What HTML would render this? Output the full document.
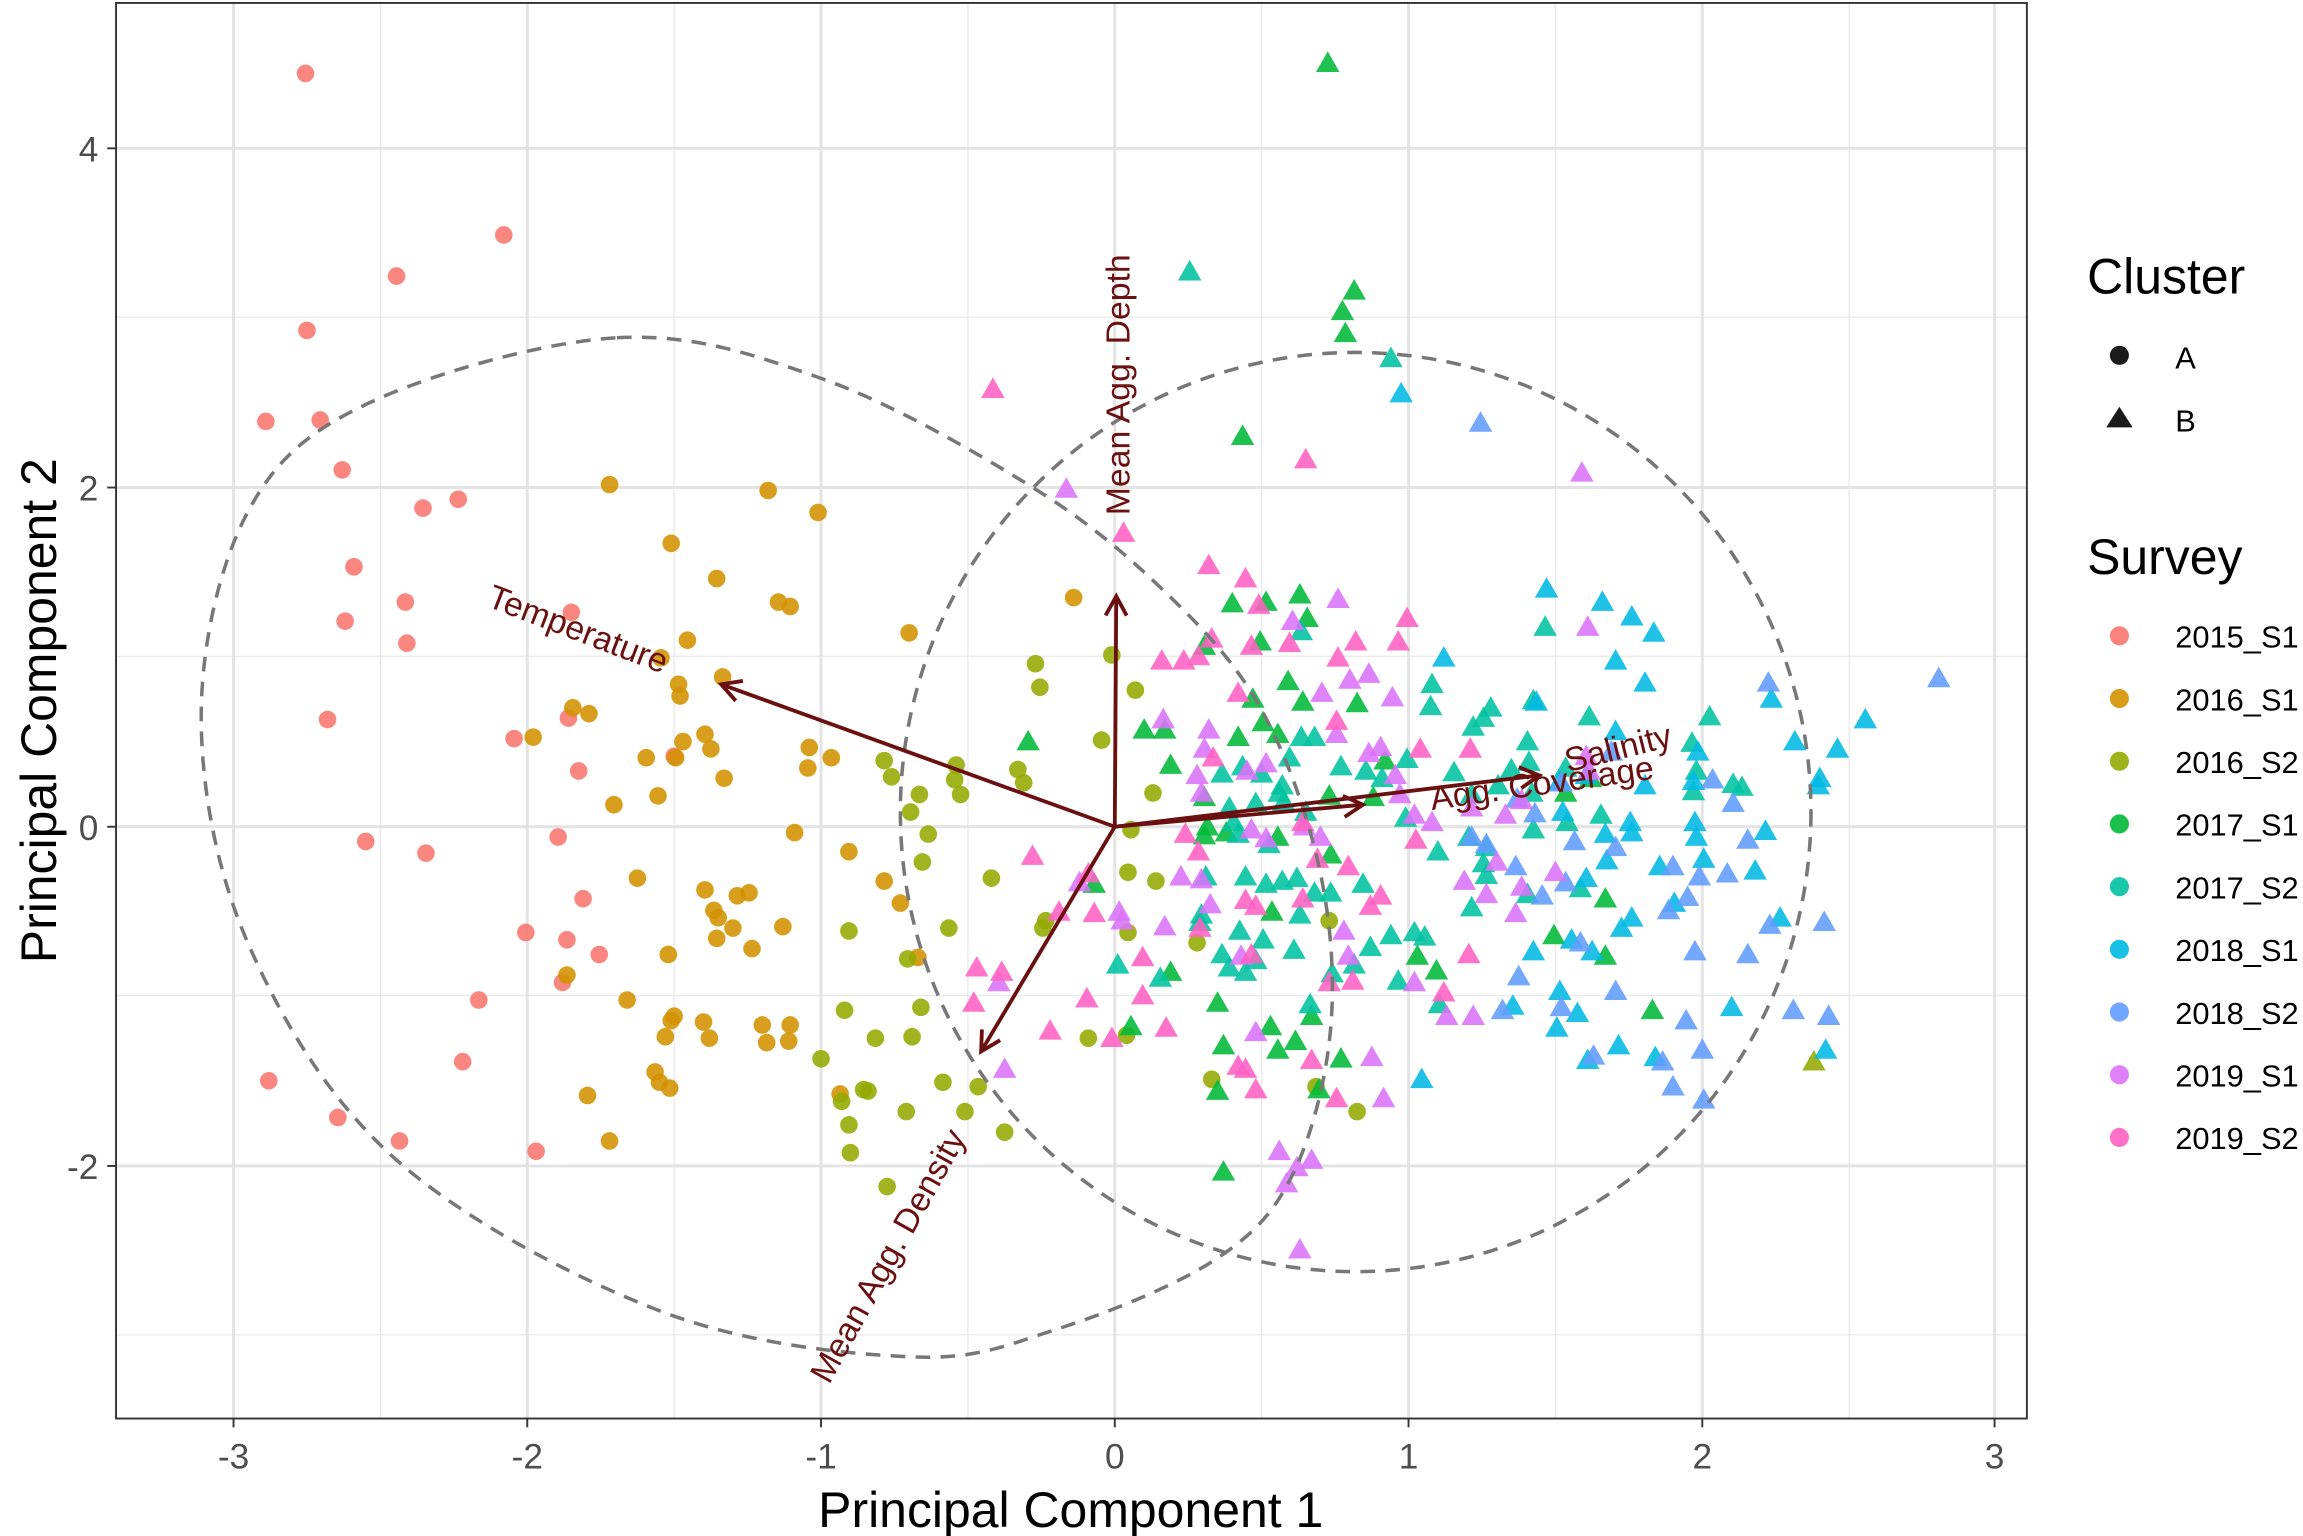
<!DOCTYPE html>
<html><head><meta charset="utf-8"><style>html,body{margin:0;padding:0;background:#fff;overflow:hidden}svg{display:block}</style></head>
<body>
<svg id="s" width="2303" height="1536" viewBox="0 0 1568 1046" preserveAspectRatio="none" xmlns="http://www.w3.org/2000/svg" font-family="Liberation Sans, sans-serif">
<rect x="0" y="0" width="1568" height="1046" fill="#fff"/>
<g stroke="#ebebeb" stroke-width="1">
<line x1="79" x2="1380" y1="216" y2="216"/><line x1="79" x2="1380" y1="447" y2="447"/><line x1="79" x2="1380" y1="678" y2="678"/><line x1="79" x2="1380" y1="909" y2="909"/>
<line y1="2" y2="966" x1="259" x2="259"/><line y1="2" y2="966" x1="459" x2="459"/><line y1="2" y2="966" x1="659" x2="659"/><line y1="2" y2="966" x1="859" x2="859"/><line y1="2" y2="966" x1="1059" x2="1059"/><line y1="2" y2="966" x1="1259" x2="1259"/>
</g>
<g stroke="#e3e3e3" stroke-width="2">
<line x1="79" x2="1380" y1="101" y2="101"/><line x1="79" x2="1380" y1="332" y2="332"/><line x1="79" x2="1380" y1="563" y2="563"/><line x1="79" x2="1380" y1="794" y2="794"/>
<line y1="2" y2="966" x1="159" x2="159"/><line y1="2" y2="966" x1="359" x2="359"/><line y1="2" y2="966" x1="559" x2="559"/><line y1="2" y2="966" x1="759" x2="759"/><line y1="2" y2="966" x1="959" x2="959"/><line y1="2" y2="966" x1="1159" x2="1159"/><line y1="2" y2="966" x1="1358" x2="1358"/>
</g>
<g id="pts"></g>
<g id="ell" fill="none" stroke="#777" stroke-width="2.4" stroke-dasharray="10,7"></g>
<g stroke="#6b1010" stroke-width="2.6" fill="none" id="arr"></g>
<g fill="#6b1010" font-size="23">
<text transform="translate(393,430) rotate(21)" text-anchor="middle" dominant-baseline="middle">Temperature</text>
<text transform="translate(763,262) rotate(-90)" text-anchor="middle" dominant-baseline="middle">Mean Agg. Depth</text>
<text transform="translate(1102,511) rotate(-14)" text-anchor="middle" dominant-baseline="middle">Salinity</text>
<text transform="translate(1050,535) rotate(-8)" text-anchor="middle" dominant-baseline="middle">Agg. Coverage</text>
<text transform="translate(606,856) rotate(-61)" text-anchor="middle" dominant-baseline="middle">Mean Agg. Density</text>
</g>
<rect x="79" y="2" width="1301" height="964" fill="none" stroke="#333" stroke-width="1.3"/>
<g stroke="#333" stroke-width="1.3">
<line x1="159" x2="159" y1="966" y2="972"/><line x1="359" x2="359" y1="966" y2="972"/><line x1="559" x2="559" y1="966" y2="972"/><line x1="759" x2="759" y1="966" y2="972"/><line x1="959" x2="959" y1="966" y2="972"/><line x1="1159" x2="1159" y1="966" y2="972"/><line x1="1358" x2="1358" y1="966" y2="972"/>
<line x1="73" x2="79" y1="101" y2="101"/><line x1="73" x2="79" y1="332" y2="332"/><line x1="73" x2="79" y1="563" y2="563"/><line x1="73" x2="79" y1="794" y2="794"/>
</g>
<g fill="#4d4d4d" font-size="24" text-anchor="middle">
<text x="159" y="1000">-3</text><text x="359" y="1000">-2</text><text x="559" y="1000">-1</text><text x="759" y="1000">0</text><text x="959" y="1000">1</text><text x="1159" y="1000">2</text><text x="1358" y="1000">3</text>
</g>
<g fill="#4d4d4d" font-size="24" text-anchor="end">
<text x="67" y="110">4</text><text x="67" y="341">2</text><text x="67" y="572">0</text><text x="67" y="803">-2</text>
</g>
<text x="729" y="1040" font-size="34" text-anchor="middle" fill="#000">Principal Component 1</text>
<text transform="translate(38,484) rotate(-90)" font-size="34" text-anchor="middle" fill="#000">Principal Component 2</text>
<text x="1421" y="200" font-size="34" fill="#000">Cluster</text>
<circle cx="1443" cy="242" r="6.5" fill="#1a1a1a"/>
<polygon points="1443,277 1452,291 1434,291" fill="#1a1a1a"/>
<text x="1481" y="251" font-size="21" fill="#000">A</text>
<text x="1481" y="294" font-size="21" fill="#000">B</text>
<text x="1421" y="391" font-size="34" fill="#000">Survey</text>
<g id="leg" font-size="21" fill="#000"></g>
</svg>
<script>
var C=["#F8766D","#D39200","#93AA00","#00BA38","#00C19F","#00B9E3","#619CFF","#DB72FB","#FF61C3"];
var NS="http://www.w3.org/2000/svg";
function el(t,a,p){var e=document.createElementNS(NS,t);for(var k in a)e.setAttribute(k,a[k]);p.appendChild(e);return e;}
var D=[
[0,0,[[208,50],[343,160],[270,188],[209,225],[181,287],[218,286],[233,320],[312,340],[288,346],[241,386],[276,410],[235,423],[389,417],[277,438],[223,490],[350,503],[387,489],[394,525],[249,573],[290,581],[380,570],[397,612],[358,635],[386,640],[408,650],[383,669],[326,681],[315,723],[183,736],[230,761],[272,777],[365,784],[459,515]]],
[1,0,[[415,330],[523,334],[557,349],[457,370],[488,394],[530,410],[538,413],[731,407],[468,436],[450,448],[462,466],[492,461],[619,431],[463,474],[390,482],[401,486],[480,500],[484,510],[465,505],[460,516],[551,509],[566,516],[550,523],[440,516],[363,502],[493,530],[448,542],[418,548],[541,567],[578,580],[434,598],[613,615],[480,606],[486,620],[502,610],[510,608],[489,625],[499,632],[488,639],[533,631],[512,646],[455,650],[386,664],[427,681],[459,692],[479,696],[457,695],[453,706],[483,707],[519,698],[538,698],[522,710],[537,709],[449,737],[456,741],[446,730],[400,746],[415,777],[572,745],[625,652],[602,600]]],
[2,0,[[757,446],[705,452],[708,468],[750,504],[773,470],[602,518],[607,529],[693,524],[697,533],[626,541],[651,521],[650,531],[654,541],[620,553],[632,568],[628,587],[675,598],[646,632],[712,627],[710,632],[578,634],[618,653],[627,686],[575,688],[596,707],[559,721],[621,706],[642,737],[588,742],[591,743],[573,750],[578,766],[617,757],[666,740],[657,757],[684,771],[604,808],[579,785],[770,565],[768,594],[787,600],[768,635],[741,707],[767,705],[825,735],[896,740],[905,627],[924,757],[785,540],[815,642]]],
[2,1,[[1235,723]]],
[3,1,[[904,43],[922,198],[914,212],[916,227],[846,297],[700,505],[779,497],[745,602],[793,497],[797,521],[820,440],[839,411],[862,410],[885,405],[858,437],[890,421],[877,464],[853,476],[860,492],[870,500],[843,502],[887,478],[924,479],[943,518],[905,542],[935,543],[822,563],[835,567],[797,662],[770,699],[829,683],[833,712],[865,699],[893,692],[913,721],[898,742],[882,709],[870,715],[829,743],[965,651],[978,661],[1066,540],[1083,530],[1058,637],[1093,651],[1125,688],[1093,612],[833,798],[906,582],[866,621],[820,543],[870,570],[820,569]]],
[4,1,[[810,185],[947,244],[1040,505],[862,602],[871,540],[859,527],[878,516],[886,502],[895,502],[846,522],[832,527],[837,550],[855,547],[873,535],[840,560],[864,575],[889,553],[873,600],[895,608],[885,623],[906,608],[928,602],[957,557],[930,525],[941,530],[990,526],[1015,482],[1029,524],[1020,535],[1000,570],[1012,596],[1002,541],[1043,540],[979,580],[1076,605],[963,635],[970,638],[860,640],[881,647],[907,663],[922,657],[933,645],[883,598],[947,637],[952,668],[980,684],[892,684],[837,659],[848,662],[1041,519],[1010,489],[1066,523],[1082,488],[1153,539],[1152,506],[1164,488],[1186,536],[1044,565],[1067,560],[1155,525],[1180,534],[1090,555],[1003,495],[1052,427],[974,481],[975,466],[1044,477],[848,597],[844,634],[855,654],[832,650],[817,628],[761,657],[821,597],[886,430],[913,522],[958,517],[874,546],[843,568],[818,623],[790,666],[1012,577],[1040,609],[1002,618],[1010,588]]],
[5,1,[[954,268],[983,448],[1046,478],[1064,553],[1094,586],[1111,567],[1120,535],[1153,532],[1156,512],[1155,570],[1062,675],[1044,648],[1030,685],[1074,690],[1102,712],[1127,720],[1081,722],[1084,648],[1093,568],[1239,530],[1251,510],[1270,490],[1238,535],[1206,476],[1160,585],[1195,593],[1222,505],[1243,715],[1100,450],[1111,420],[1120,465],[1091,410],[1062,532],[1080,528],[1100,498],[1110,560],[1154,560],[1080,598],[1130,590],[1140,615],[1111,625],[1070,640],[1104,632],[968,735],[1179,686],[1060,700],[1053,401],[1126,431],[1212,625],[1202,566]]],
[6,1,[[1008,288],[1063,533],[1045,554],[1072,573],[1100,577],[1097,512],[1139,590],[1157,597],[1180,547],[1166,531],[1154,648],[1190,650],[1205,630],[1176,595],[1149,611],[1148,695],[1159,715],[1100,675],[1076,642],[1066,601],[1012,575],[1033,544],[1002,570],[1034,665],[1023,688],[1063,686],[1085,719],[1139,740],[1132,723],[1160,749],[1221,688],[1245,692],[1190,572],[1204,465],[1320,462],[1242,628],[1136,620],[1032,590],[1050,610]]],
[7,1,[[726,333],[792,490],[823,497],[820,510],[880,423],[911,408],[919,463],[900,472],[932,459],[948,475],[910,500],[932,513],[950,528],[940,509],[862,520],[849,525],[815,528],[818,540],[852,565],[862,571],[888,563],[899,570],[963,555],[953,541],[1025,555],[1036,545],[1002,550],[975,560],[1032,622],[1019,587],[997,600],[1036,604],[1059,594],[1082,525],[1081,427],[1077,322],[735,601],[762,621],[804,597],[818,599],[824,616],[793,631],[764,627],[845,651],[918,651],[963,669],[985,692],[1003,692],[934,720],[942,748],[871,784],[883,795],[893,790],[876,806],[885,851],[684,728],[680,669],[855,703],[1080,515],[915,634],[1012,609]]],
[8,1,[[676,265],[889,313],[765,363],[823,385],[848,394],[857,412],[825,435],[806,450],[791,450],[816,447],[852,440],[878,438],[923,437],[911,448],[958,421],[952,437],[843,472],[826,516],[910,491],[967,510],[1001,510],[887,560],[848,613],[817,632],[852,650],[855,617],[887,612],[816,580],[807,568],[897,585],[918,590],[940,610],[964,572],[933,617],[745,622],[721,621],[740,680],[778,652],[778,678],[757,707],[715,702],[663,683],[665,659],[682,662],[843,726],[893,722],[910,748],[855,742],[794,700],[848,728],[905,669],[921,668],[1000,650],[983,676],[703,583],[741,595]]]
];
var g=document.getElementById("pts");
D.forEach(function(s){var c=C[s[0]];s[2].forEach(function(p){
 if(s[1]==0) el("circle",{cx:p[0],cy:p[1],r:6,fill:c,"fill-opacity":0.88},g);
 else el("polygon",{points:p[0]+","+(p[1]-8)+" "+(p[0]+8)+","+(p[1]+6)+" "+(p[0]-8)+","+(p[1]+6),fill:c,"fill-opacity":0.88},g);
});});
var lg=document.getElementById("leg");
["2015_S1","2016_S1","2016_S2","2017_S1","2017_S2","2018_S1","2018_S2","2019_S1","2019_S2"].forEach(function(t,i){
 var y=433+i*42.7;el("circle",{cx:1443,cy:y,r:6.5,fill:C[i],"fill-opacity":0.9},lg);
 var tx=el("text",{x:1481,y:y+8},lg);tx.textContent=t;});
var E=document.getElementById("ell");
var P=[[420,230],[560,258],[700,330],[790,400],[857,480],[898,590],[906,700],[880,800],[827,858],[720,905],[620,924],[450,893],[270,790],[170,645],[137,490],[168,350],[250,275]];
function cr(P){var n=P.length,d="M"+P[0][0]+","+P[0][1];for(var i=0;i<n;i++){var p0=P[(i-1+n)%n],p1=P[i],p2=P[(i+1)%n],p3=P[(i+2)%n];
d+=" C"+(p1[0]+(p2[0]-p0[0])/6)+","+(p1[1]+(p2[1]-p0[1])/6)+" "+(p2[0]-(p3[0]-p1[0])/6)+","+(p2[1]-(p3[1]-p1[1])/6)+" "+p2[0]+","+p2[1];}return d+"Z";}
el("path",{d:cr(P)},E);
el("ellipse",{cx:923,cy:553,rx:310,ry:313},E);
var A=document.getElementById("arr");var O=[759,563];
[[491,466],[760,406],[1048,528],[928,548],[668,716]].forEach(function(q){
 el("line",{x1:O[0],y1:O[1],x2:q[0],y2:q[1]},A);
 var a=Math.atan2(q[1]-O[1],q[0]-O[0]),L=15,w=0.5;
 el("polyline",{points:(q[0]-L*Math.cos(a-w))+","+(q[1]-L*Math.sin(a-w))+" "+q[0]+","+q[1]+" "+(q[0]-L*Math.cos(a+w))+","+(q[1]-L*Math.sin(a+w))},A);
});
</script>
</body></html>
